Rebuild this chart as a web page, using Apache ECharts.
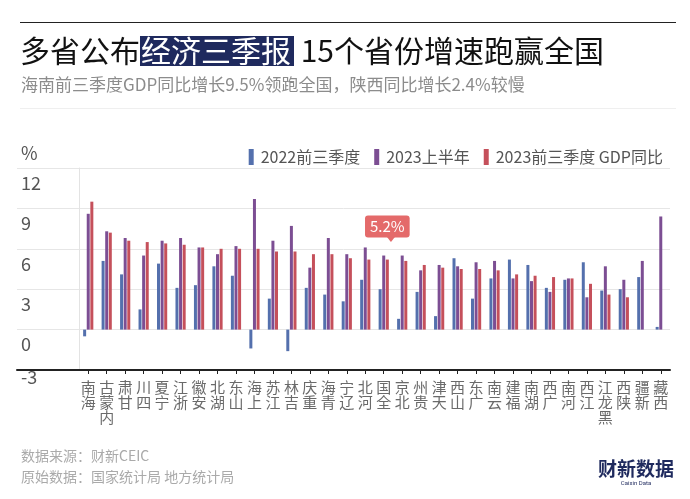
<!DOCTYPE html>
<html>
<head>
<meta charset="utf-8">
<script src="https://cdn.jsdelivr.net/npm/echarts@6/dist/echarts.min.js"></script>
<style>
html,body{margin:0;padding:0;background:#fff;}
#chart{width:690px;height:499px;}
</style>
</head>
<body>
<div id="chart"></div>
<script>
const categories = ['海南','内蒙古','甘肃','四川','宁夏','浙江','安徽','湖北','山东','上海','江苏','吉林','重庆','青海','辽宁','河北','全国','北京','贵州','天津','山西','广东','云南','福建','湖南','广西','河南','江西','黑龙江','陕西','新疆','西藏'];
const seriesNames = ['2022前三季度','2023上半年','2023前三季度 GDP同比'];
const gdp2022Q3 = [-0.5,5.1,4.1,1.5,4.9,3.1,3.3,4.7,4.0,-1.4,2.3,-1.6,3.1,2.6,2.1,3.7,3.0,0.8,2.8,1.0,5.3,2.3,3.8,5.2,4.8,3.1,3.7,5.0,2.9,3.0,3.9,0.2];
const gdp2023H1 = [8.6,7.3,6.8,5.5,6.6,6.8,6.1,5.6,6.2,9.7,6.6,7.7,4.6,6.8,5.6,6.1,5.5,5.5,4.4,4.8,4.7,5.0,5.1,3.8,3.6,2.8,3.8,2.4,4.7,3.7,5.1,8.4];
const gdp2023Q3 = [9.5,7.2,6.6,6.5,6.4,6.3,6.1,6.0,6.0,6.0,5.8,5.8,5.6,5.6,5.3,5.2,5.2,5.1,4.8,4.6,4.5,4.5,4.4,4.1,4.0,3.9,3.8,3.4,2.6,2.4,null,null];
const yMin = -3, yMax = 12, yStep = 3;
const highlightCategory = '全国';

const FONT = 'Noto Sans CJK SC';
const colors = ['#5470ad', '#7c4e93', '#c5505b'];
const tagColor = '#e46a6a';

const chart = echarts.init(document.getElementById('chart'), null, {renderer: 'canvas'});

const redData = gdp2023Q3.map((v, i) => categories[i] === highlightCategory ? {
  value: v,
  label: {
    show: true, position: 'top', distance: 22,
    formatter: '{c}%', color: '#fff', backgroundColor: tagColor,
    borderRadius: 3, padding: [3, 5, 3, 5], fontSize: 15, lineHeight: 16, fontFamily: FONT
  }
} : v);

const option = {
  animation: false,
  textStyle: {fontFamily: FONT},
  color: colors,
  title: [
    {
      text: '{a|多省公布}{b|经济三季报}{a| 15个省份增速跑赢全国}',
      left: 20, top: 35, padding: 0,
      textStyle: {
        fontWeight: 'normal',
        rich: {
          a: {fontSize: 30, color: '#111', lineHeight: 32, fontWeight: 'normal', fontFamily: FONT},
          b: {fontSize: 30, color: '#fff', lineHeight: 32, fontWeight: 'normal', backgroundColor: '#1f2a5e', padding: [0, 3, 0, 1], fontFamily: FONT}
        }
      }
    },
    {
      text: '海南前三季度GDP同比增长9.5%领跑全国，陕西同比增长2.4%较慢',
      left: 21, top: 75, padding: 0,
      textStyle: {fontSize: 17, color: '#8c8c8c', fontWeight: 'normal', lineHeight: 20, fontFamily: FONT}
    }
  ],
  legend: {
    data: seriesNames,
    right: 22, top: 144,
    icon: 'rect', itemWidth: 5, itemHeight: 16, itemGap: 14,
    textStyle: {fontSize: 16, color: '#555', fontFamily: FONT, padding: [0, 0, 0, 2]}
  },
  grid: [
    {left: 17, right: 20, top: 168, bottom: 129},
    {left: 79, right: 20, top: 168, bottom: 129}
  ],
  xAxis: [
    {
      gridIndex: 0, type: 'value', min: 0, max: 1,
      axisLine: {show: true, onZero: false, lineStyle: {color: '#222', width: 2}},
      axisLabel: {show: false}, axisTick: {show: false}, splitLine: {show: false}
    },
    {
      gridIndex: 1, type: 'category', data: categories,
      axisLine: {show: false, onZero: false},
      axisTick: {show: true, alignWithLabel: true, length: 4, lineStyle: {color: '#222'}},
      axisLabel: {
        interval: 0, fontSize: 15, lineHeight: 15, color: '#6a6a6a', margin: 10,
        verticalAlign: 'top', fontFamily: FONT,
        formatter: (name) => name.split('').reverse().join('\n')
      }
    }
  ],
  yAxis: [
    {
      gridIndex: 0, type: 'value', min: yMin, max: yMax, interval: yStep,
      axisLine: {show: false}, axisTick: {show: false},
      splitLine: {show: true, showMinLine: true, showMaxLine: true, lineStyle: {color: '#e6e6e6', width: 1}},
      axisLabel: {
        inside: true, margin: 4, align: 'left',
        formatter: (v) => v === yMin ? '{s| }\n{n|' + v + '}' : '{b| }\n{n|' + v + '}',
        rich: {
          b: {lineHeight: 30, fontSize: 2},
          s: {lineHeight: 14, fontSize: 2},
          n: {fontSize: 18, lineHeight: 20, color: '#555', fontFamily: FONT}
        }
      }
    },
    {
      gridIndex: 1, type: 'value', min: yMin, max: yMax, interval: yStep,
      axisLine: {show: true, lineStyle: {color: '#e3e3e3'}},
      axisLabel: {show: false}, axisTick: {show: false}, splitLine: {show: false}
    }
  ],
  series: [
    {
      name: seriesNames[0], type: 'bar', xAxisIndex: 1, yAxisIndex: 1,
      data: gdp2022Q3, barWidth: 3, barGap: '20%', itemStyle: {color: colors[0]}
    },
    {
      name: seriesNames[1], type: 'bar', xAxisIndex: 1, yAxisIndex: 1,
      data: gdp2023H1, barWidth: 3, barGap: '20%', itemStyle: {color: colors[1]}
    },
    {
      name: seriesNames[2], type: 'bar', xAxisIndex: 1, yAxisIndex: 1,
      data: redData, barWidth: 3, barGap: '20%', itemStyle: {color: colors[2]},
      markPoint: {
        symbol: 'triangle', symbolSize: [8, 5], symbolRotate: 180, symbolOffset: [3.6, -20],
        silent: true, label: {show: false}, itemStyle: {color: tagColor},
        data: [{coord: [highlightCategory, gdp2023Q3[categories.indexOf(highlightCategory)]]}]
      }
    }
  ],
  graphic: [
    {type: 'line', shape: {x1: 20, y1: 22.5, x2: 676, y2: 22.5}, style: {stroke: '#222', lineWidth: 1}, silent: true},
    {type: 'line', shape: {x1: 20, y1: 108.5, x2: 676, y2: 108.5}, style: {stroke: '#efefef', lineWidth: 1}, silent: true},
    {type: 'text', x: 21, y: 153, style: {text: '%', fontSize: 18, fill: '#555', verticalAlign: 'middle', fontFamily: FONT}},
    {type: 'text', x: 21, y: 456, style: {text: '数据来源：财新CEIC', fontSize: 14, fill: '#aaa', verticalAlign: 'middle', fontFamily: FONT}},
    {type: 'text', x: 21, y: 477, style: {text: '原始数据：国家统计局 地方统计局', fontSize: 14, fill: '#aaa', verticalAlign: 'middle', fontFamily: FONT}},
    {type: 'text', x: 636, y: 469, style: {text: '财新数据', fontSize: 19, fontWeight: 'bold', fill: '#1f2a5e', align: 'center', verticalAlign: 'middle', fontFamily: FONT}},
    {type: 'text', x: 636, y: 483, style: {text: 'Caixin Data', fontSize: 6, fill: '#1f2a5e', align: 'center', verticalAlign: 'middle', fontFamily: 'Roboto'}}
  ]
};
chart.setOption(option);
</script>
</body>
</html>
